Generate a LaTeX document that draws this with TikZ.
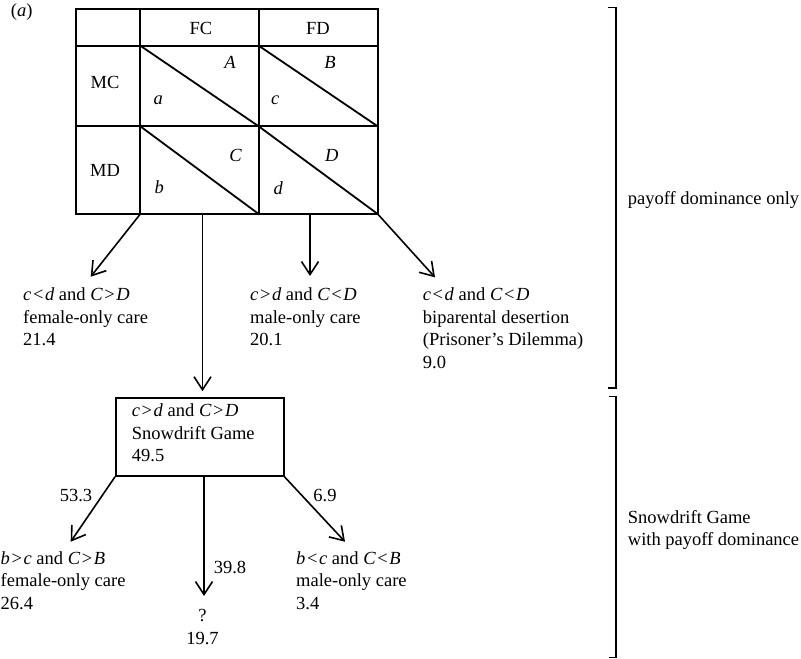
\documentclass[tikz,border=0pt]{standalone}
\usepackage{fontspec}
\setmainfont{Liberation Serif}
\usetikzlibrary{arrows.meta,calc}
\newcommand{\rl}[3]{\textit{#1}\kern1.6pt#2\kern1.6pt\textit{#3}}
\begin{document}
\begin{tikzpicture}[x=1pt,y=-1pt,
  every node/.style={inner sep=0pt, font=\fontsize{18.5}{22.5}\selectfont},
  lbl/.style={anchor=north west, align=left, execute at begin node=\strut},
  grid/.style={line width=1.8pt, line cap=rect},
  arr/.style={line width=1.6pt, -{Straight Barb[length=13pt,width=17pt]}},
  brk/.style={line width=1.3pt}]
\useasboundingbox (0,0) rectangle (801,659);

% payoff table
\draw[grid] (76,9.3) rectangle (377.7,214);
\draw[grid] (140.3,9.3) -- (140.3,214) (258.7,9.3) -- (258.7,214);
\draw[grid] (76,45.7) -- (377.7,45.7) (76,126.3) -- (377.7,126.3);
\draw[grid] (140.3,45.7) -- (258.7,126.3) (258.7,45.7) -- (377.7,126.3);
\draw[grid] (140.3,126.3) -- (258.7,214) (258.7,126.3) -- (377.7,214);

\node (lab) at (21.7,11.7) {(\textit{a})};
\node (fc) at (201,28) {FC};
\node (fd) at (318,28) {FD};
\node (mc) at (105,82.7) {MC};
\node (md) at (105,170) {MD};
\node (A) at (230,62.7) {\textit{A}};
\node (pa) at (158.3,100) {\textit{a}};
\node (B) at (330,62.7) {\textit{B}};
\node (pc) at (275.3,100) {\textit{c}};
\node (C) at (235.7,155) {\textit{C}};
\node (pb) at (159.3,187.3) {\textit{b}};
\node (D) at (331.7,155) {\textit{D}};
\node (pd) at (278.3,188) {\textit{d}};

% arrow start points on table edge
\coordinate (s1) at (140.3,214);
\coordinate (s2) at (202.5,214);
\coordinate (s3) at (310,214);
\coordinate (s4) at (377.7,214);
\coordinate (e1) at (90.7,276.7);
\coordinate (e3) at (310,276);
\coordinate (e4) at (435,277.3);

% first-level outcomes
\node[lbl] (o1) at (23,287.75) {\rl{c}{<}{d} and \rl{C}{>}{D}\\female-only care\\21.4};
\node[lbl] (o2) at (250,287.75) {\rl{c}{>}{d} and \rl{C}{<}{D}\\male-only care\\20.1};
\node[lbl] (o3) at (422.7,287.75) {\rl{c}{<}{d} and \rl{C}{<}{D}\\biparental desertion\\(Prisoner’s Dilemma)\\9.0};

% snowdrift box
\node[draw, line width=1.8pt, anchor=north west, minimum width=167.7pt,
      minimum height=78.3pt] (sg) at (115,396.7) {};
\node[lbl] (sgt) at (131.7,403.75) {\rl{c}{>}{d} and \rl{C}{>}{D}\\Snowdrift Game\\49.5};

\draw[arr] (s1) -- (e1);
\draw[arr, shorten >=5.5pt] (s2) -- (s2 |- sg.north);
\draw[arr] (s3) -- (e3);
\draw[arr] (s4) -- (e4);

% second level
\coordinate (f1) at (70.7,541.7);
\coordinate (f2) at (204,596);
\coordinate (f3) at (345,541.7);
\draw[arr] (sg.south west) -- (f1);
\draw[arr] (f2 |- sg.south) -- (f2);
\draw[arr] (sg.south east) -- (f3);

\node (n1) at (76,495) {53.3};
\node (n2) at (230,567.7) {39.8};
\node (n3) at (325,495) {6.9};

\node[lbl] (q1) at (0.5,551.45) {\rl{b}{>}{c} and \rl{C}{>}{B}\\female-only care\\26.4};
\node[lbl] (q3) at (296,551.45) {\rl{b}{<}{c} and \rl{C}{<}{B}\\male-only care\\3.4};
\node[anchor=north, align=center, execute at begin node=\strut] (q2) at (202.5,609.25) {?\\19.7};

% brackets
\draw[brk] (608,7.3) -- (616,7.3) -- (616,388) -- (608,388);
\draw[brk] (609,396.7) -- (616,396.7) -- (616,657.7) -- (609,657.7);
\node[anchor=west] (p1) at (627.7,200) {payoff dominance only};
\node[lbl] (p2) at (627.7,510) {Snowdrift Game\\with payoff dominance};
\end{tikzpicture}
\end{document}
